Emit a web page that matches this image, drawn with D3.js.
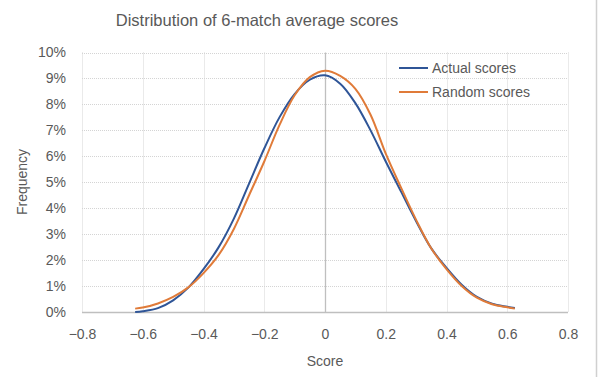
<!DOCTYPE html>
<html>
<head>
<meta charset="utf-8">
<script src="https://cdn.jsdelivr.net/npm/d3@7"></script>
<style>
  body { margin: 0; background: #fff; }
  svg text { font-family: "Liberation Sans", Arial, sans-serif; fill: #595959; }
</style>
</head>
<body>
<script>
// score values (x) shared by both series
var scores = [-0.625, -0.6, -0.55, -0.5, -0.45, -0.4, -0.35, -0.3, -0.25, -0.2, -0.15, -0.1, -0.05,
              0, 0.05, 0.1, 0.15, 0.2, 0.25, 0.3, 0.35, 0.4, 0.45, 0.5, 0.55, 0.6, 0.625];
// frequency in percent
var actualScores = [0.0, 0.03, 0.15, 0.45, 0.94, 1.65, 2.5, 3.6, 4.95, 6.3, 7.5, 8.4, 8.95,
                    9.12, 8.8, 8.05, 7.0, 5.8, 4.65, 3.5, 2.45, 1.7, 1.05, 0.58, 0.32, 0.2, 0.15];
var randomScores = [0.13, 0.17, 0.33, 0.58, 0.95, 1.5, 2.2, 3.2, 4.5, 5.8, 7.2, 8.35, 9.05,
                    9.3, 9.1, 8.6, 7.6, 6.1, 4.8, 3.55, 2.45, 1.65, 1.0, 0.55, 0.3, 0.18, 0.13];
var xTicks = [-0.8, -0.6, -0.4, -0.2, 0, 0.2, 0.4, 0.6, 0.8];
var yTicks = [0, 1, 2, 3, 4, 5, 6, 7, 8, 9, 10];
var seriesNames = ["Actual scores", "Random scores"];
var seriesColors = ["#2f5597", "#e07b39"];

var width = 605, height = 377;

var svg = d3.select("body").append("svg")
  .attr("width", width)
  .attr("height", height);

var x = d3.scaleLinear().domain([-0.8, 0.8]).range([82, 568]);
var y = d3.scaleLinear().domain([0, 10]).range([312, 52.5]);

// chart border on the right
svg.append("line")
  .attr("x1", 596.5).attr("x2", 596.5)
  .attr("y1", 0).attr("y2", height)
  .attr("stroke", "#d0d0d0")
  .attr("stroke-width", 1.5);

// gridlines
svg.selectAll(".hgrid")
  .data(yTicks.slice(1))
  .enter().append("line")
  .attr("x1", x(-0.8)).attr("x2", x(0.8))
  .attr("y1", d => Math.round(y(d)) + 0.5)
  .attr("y2", d => Math.round(y(d)) + 0.5)
  .attr("stroke", "#d4d4d4")
  .attr("stroke-dasharray", "1,1");

svg.selectAll(".vgrid")
  .data(xTicks.filter(d => d != 0))
  .enter().append("line")
  .attr("x1", d => Math.round(x(d)) + 0.5)
  .attr("x2", d => Math.round(x(d)) + 0.5)
  .attr("y1", y(10)).attr("y2", y(0))
  .attr("stroke", "#d4d4d4")
  .attr("stroke-dasharray", "1,1");

// axes lines (x axis at 0%, y axis at score 0)
svg.append("line")
  .attr("x1", x(-0.8)).attr("x2", x(0.8))
  .attr("y1", y(0) + 0.5).attr("y2", y(0) + 0.5)
  .attr("stroke", "#bfbfbf")
  .attr("stroke-width", 1.3);
svg.append("line")
  .attr("x1", Math.round(x(0)) + 0.5).attr("x2", Math.round(x(0)) + 0.5)
  .attr("y1", y(10)).attr("y2", y(0))
  .attr("stroke", "#bfbfbf")
  .attr("stroke-width", 1.3);

// tick labels
var xAxis = svg.append("g")
  .attr("transform", "translate(0," + 312 + ")")
  .call(d3.axisBottom(x).tickValues(xTicks).tickSize(0).tickPadding(17)
    .tickFormat(d => d == 0 ? "0" : d3.format(".1f")(d)));
xAxis.select(".domain").remove();
xAxis.selectAll("text").style("font-size", "14px").attr("fill", "#595959")
  .style("font-family", "'Liberation Sans', Arial, sans-serif");

var yAxis = svg.append("g")
  .attr("transform", "translate(66,0)")
  .call(d3.axisLeft(y).tickValues(yTicks).tickSize(0).tickPadding(0)
    .tickFormat(d => d + "%"));
yAxis.select(".domain").remove();
yAxis.selectAll("text").style("font-size", "14px").attr("fill", "#595959")
  .style("font-family", "'Liberation Sans', Arial, sans-serif");

// lines
var line = d3.line()
  .x(d => x(d[0]))
  .y(d => y(d[1]))
  .curve(d3.curveCatmullRom.alpha(0.5));

[actualScores, randomScores].forEach(function (vals, i) {
  svg.append("path")
    .datum(scores.map((s, j) => [s, vals[j]]))
    .attr("d", line)
    .attr("fill", "none")
    .attr("stroke", seriesColors[i])
    .attr("stroke-width", 2)
    .attr("stroke-linejoin", "round");
});

// title
svg.append("text")
  .attr("x", 257).attr("y", 26)
  .attr("text-anchor", "middle")
  .style("font-size", "16.5px")
  .text("Distribution of 6-match average scores");

// axis titles
svg.append("text")
  .attr("x", 325).attr("y", 366)
  .attr("text-anchor", "middle")
  .style("font-size", "14px")
  .text("Score");

svg.append("text")
  .attr("transform", "translate(27,182) rotate(-90)")
  .attr("text-anchor", "middle")
  .style("font-size", "14px")
  .text("Frequency");

// legend
var legend = svg.selectAll(".legend")
  .data(seriesNames)
  .enter().append("g")
  .attr("transform", (d, i) => "translate(399," + (68 + i * 24) + ")");
legend.append("line")
  .attr("x1", 0).attr("x2", 29)
  .attr("stroke", (d, i) => seriesColors[i])
  .attr("stroke-width", 2);
legend.append("text")
  .attr("x", 33).attr("y", 5)
  .style("font-size", "14px")
  .text(d => d);
</script>
</body>
</html>
